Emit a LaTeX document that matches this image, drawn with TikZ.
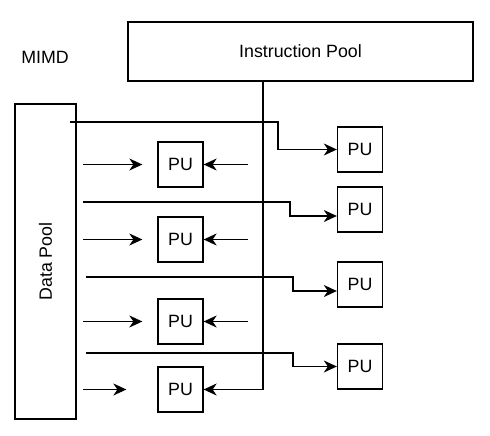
\documentclass[tikz,border=0pt]{standalone}
\usepackage{fontspec}
\setmainfont{Liberation Sans}
\usetikzlibrary{arrows.meta,calc}
\begin{document}
\begin{tikzpicture}[x=1pt,y=-1pt,
  pubox/.style={draw, line width=1.3pt, minimum width=45pt, minimum height=45pt, inner sep=0pt},
  pool/.style={draw, line width=1.3pt, inner sep=0pt},
  arr/.style={-{Stealth[length=13pt,width=12pt,inset=4pt]}, line width=1.3pt},
  font=\fontsize{17.8}{21}\selectfont]
\useasboundingbox (0,0) rectangle (490,436);

\node[pool, minimum width=345pt, minimum height=59pt] (ip) at (300.5,51.5) {Instruction Pool};
\node (mimd) at (45,57) {MIMD};
\node[pool, rotate=90, minimum width=315pt, minimum height=61pt] (dp) at (45.5,261.5) {Data Pool};

\node[pubox] (L1) at (180.5,164.5) {PU};
\node[pubox] (L2) at (180.5,239.5) {PU};
\node[pubox] (L3) at (180.5,321.5) {PU};
\node[pubox] (L4) at (180.5,389.5) {PU};

\node[pubox] (R1) at (360,149.5) {PU};
\node[pubox] (R2) at (360,209.5) {PU};
\node[pubox] (R3) at (360,284.5) {PU};
\node[pubox] (R4) at (360,366.5) {PU};

% instruction bus
\coordinate (tap) at (263,81);
\draw[arr] (tap) |- (L4.east);

% left data arrows
\coordinate (d1) at (83,164.5);
\coordinate (d2) at (83,239.5);
\coordinate (d3) at (83,321.5);
\coordinate (d4) at (83,389.5);
\draw[arr] (d1) -- ($(L1.west)+(-15,0)$);
\draw[arr] (d2) -- ($(L2.west)+(-15,0)$);
\draw[arr] (d3) -- ($(L3.west)+(-15,0)$);
\draw[arr] (d4) -- ($(L4.west)+(-31,0)$);

% right instruction arrows to left PUs
\coordinate (i1) at (248,164.5);
\coordinate (i2) at (248,239.5);
\coordinate (i3) at (248,321.5);
\draw[arr] (i1) -- (L1.east);
\draw[arr] (i2) -- (L2.east);
\draw[arr] (i3) -- (L3.east);

% lines to right PUs
\coordinate (s1) at (70,122);
\coordinate (s2) at (83,202);
\coordinate (s3) at (86,277);
\coordinate (s4) at (86,353);
\draw[arr] (s1) -- (278,122) -- (278,149.5) -- (R1.west);
\draw[arr] (s2) -- (290,202) -- (290,216) -- ($(R2.west)+(0,6.5)$);
\draw[arr] (s3) -- (293,277) -- (293,291) -- ($(R3.west)+(0,6.5)$);
\draw[arr] (s4) -- (293,353) -- (293,366.5) -- (R4.west);
\end{tikzpicture}
\end{document}
